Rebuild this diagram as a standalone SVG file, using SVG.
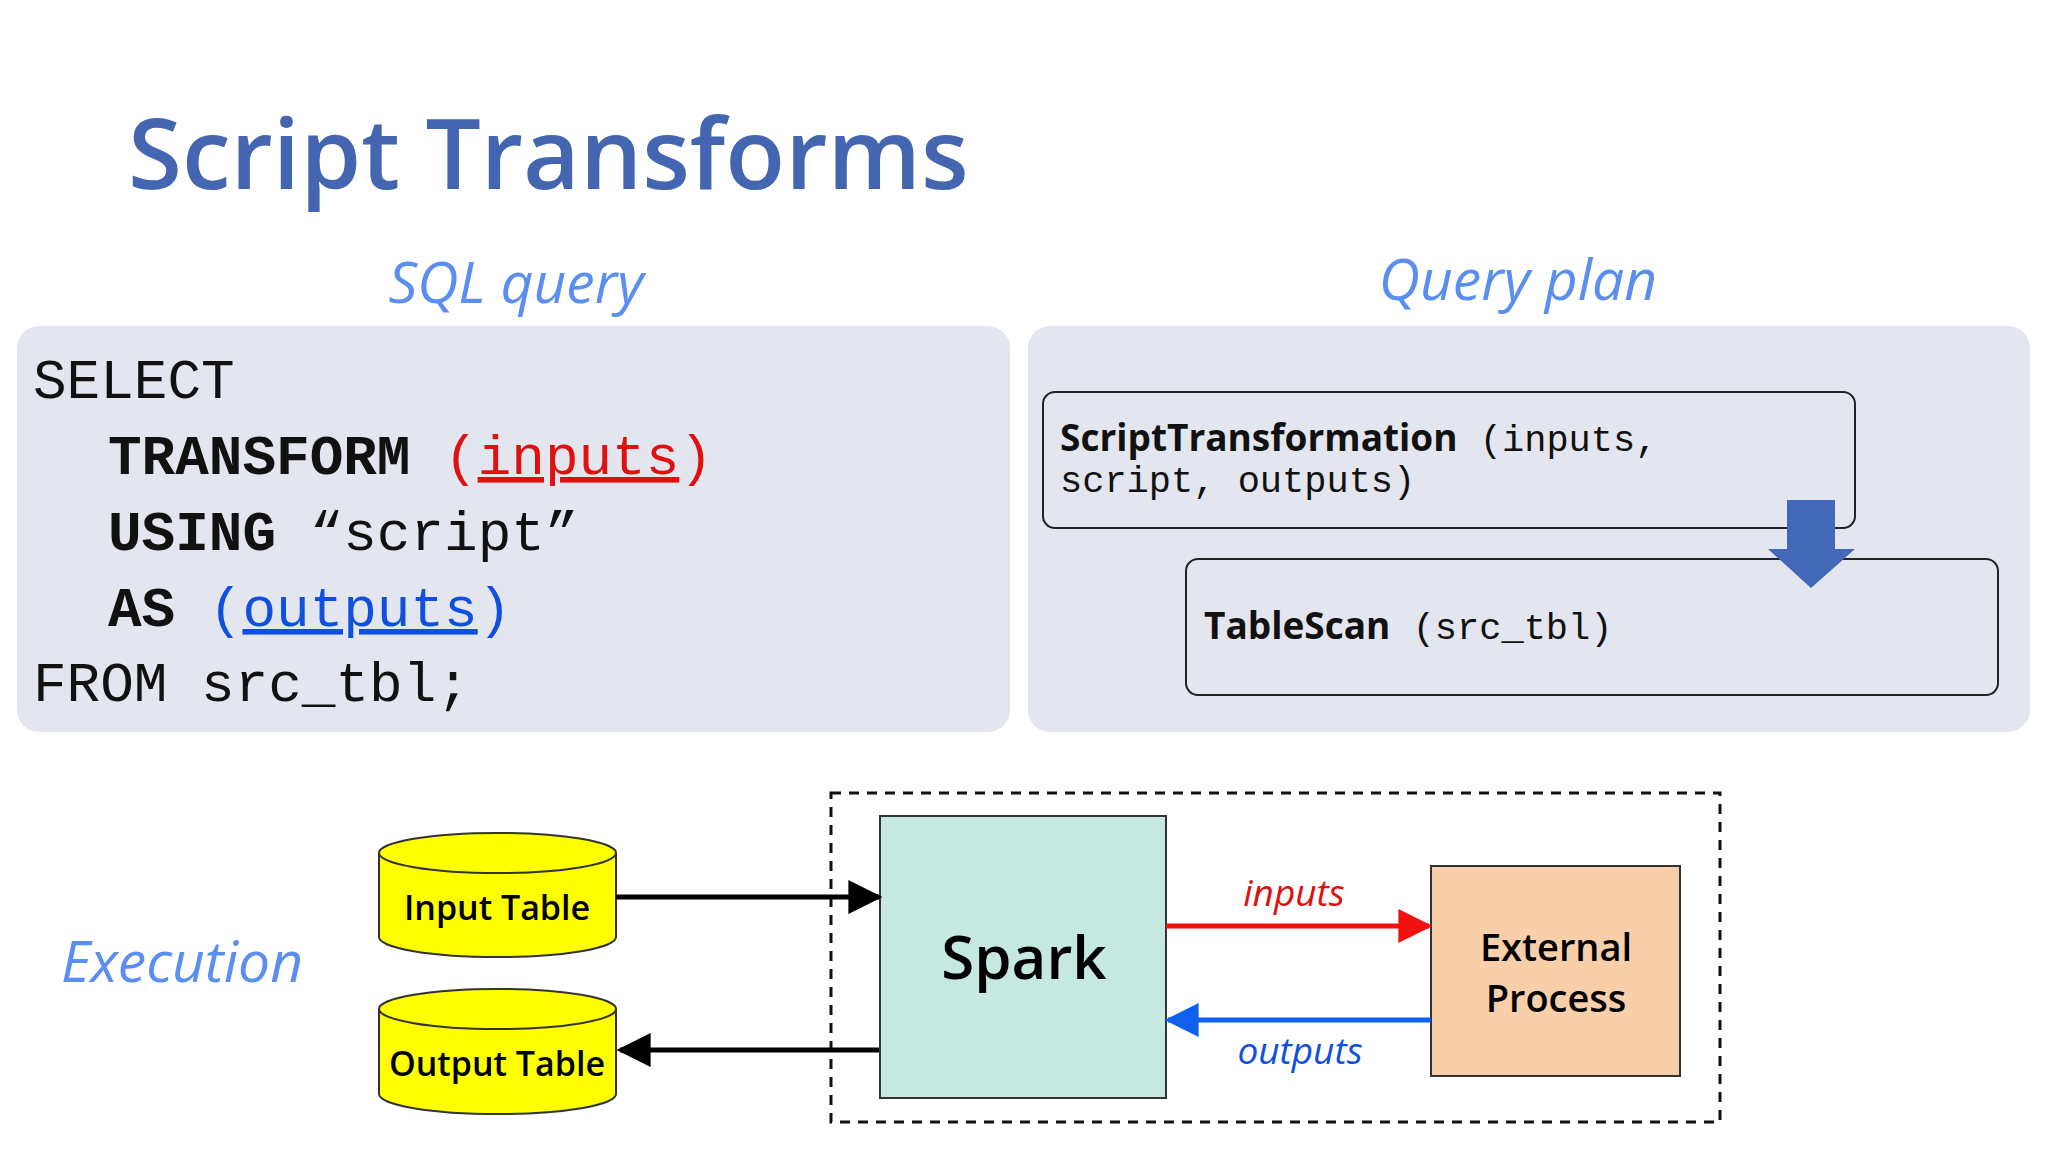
<svg xmlns="http://www.w3.org/2000/svg" width="2048" height="1152" viewBox="0 0 2048 1152">
<style>
.sans{font-family:"Open Sans","Noto Sans",sans-serif}
.mono{font-family:"Liberation Mono","DejaVu Sans Mono",monospace}
.sub{font-family:"Open Sans",sans-serif;font-style:italic;fill:#5a8ef0;font-size:57px}
.code{font-size:56px;fill:#111}
.pl{font-size:37px;fill:#111}
.cyl{fill:#ffff00;stroke:#333;stroke-width:2}
</style>
<defs>
<marker id="ak" markerWidth="10" markerHeight="10" refX="9" refY="5" orient="auto" markerUnits="userSpaceOnUse" viewBox="0 0 10 10"><path d="M0,0L10,5L0,10z" fill="#000"/></marker>
<marker id="ar" viewBox="0 0 10 10" refX="9" refY="5" markerWidth="34" markerHeight="34" orient="auto" markerUnits="userSpaceOnUse"><path d="M0,0L10,5L0,10z" fill="#f01010"/></marker>
<marker id="ab" viewBox="0 0 10 10" refX="9" refY="5" markerWidth="34" markerHeight="34" orient="auto" markerUnits="userSpaceOnUse"><path d="M0,0L10,5L0,10z" fill="#1060f0"/></marker>
<marker id="a2" viewBox="0 0 10 10" refX="9" refY="5" markerWidth="34" markerHeight="34" orient="auto" markerUnits="userSpaceOnUse"><path d="M0,0L10,5L0,10z" fill="#000"/></marker>
</defs>
<rect width="2048" height="1152" fill="#fff"/>
<text x="128" y="189" class="sans" font-size="98" font-weight="600" fill="#4466b0">Script Transforms</text>
<text x="516" y="303" text-anchor="middle" class="sub">SQL query</text>
<text x="1518" y="300" text-anchor="middle" class="sub">Query plan</text>
<g id="sql">
<rect x="17" y="326" width="993" height="406" rx="22" fill="#e4e6ef"/>
<text x="33" y="398" class="mono code">SELECT</text>
<text x="108" y="474" class="mono code"><tspan font-weight="bold">TRANSFORM</tspan> <tspan fill="#e01010">(<tspan text-decoration="underline">inputs</tspan>)</tspan></text>
<text x="108" y="550" class="mono code"><tspan font-weight="bold">USING</tspan> “script”</text>
<text x="108" y="626" class="mono code"><tspan font-weight="bold">AS</tspan> <tspan fill="#1050e0">(<tspan text-decoration="underline">outputs</tspan>)</tspan></text>
<text x="33" y="701" class="mono code">FROM src_tbl;</text>
</g>
<g id="plan">
<rect x="1028" y="326" width="1002" height="406" rx="22" fill="#e4e6ef"/>
<rect x="1043" y="392" width="812" height="136" rx="12" fill="none" stroke="#222" stroke-width="2"/>
<rect x="1186" y="559" width="812" height="136" rx="12" fill="none" stroke="#222" stroke-width="2"/>
<text x="1060" y="451" class="pl"><tspan class="sans" font-weight="bold">ScriptTransformation</tspan><tspan class="mono"> (inputs,</tspan></text>
<text x="1060" y="492" class="pl mono">script, outputs)</text>
<text x="1204" y="639" class="pl"><tspan class="sans" font-weight="bold">TableScan</tspan><tspan class="mono"> (src_tbl)</tspan></text>
<path d="M1787,500H1835V549H1855L1811,588L1768,549H1787Z" fill="#4468b8"/>
</g>
<text x="61" y="982" class="sub">Execution</text>
<rect x="831" y="793" width="889" height="329" fill="none" stroke="#111" stroke-width="3" stroke-dasharray="10,8"/>
<g id="input">
<path d="M379,853V937A118,20 0 0 0 616,937V853" class="cyl"/>
<ellipse cx="497.5" cy="853" rx="118.5" ry="20" class="cyl"/>
<text x="497" y="920" text-anchor="middle" class="sans" font-size="34" font-weight="600">Input Table</text>
</g>
<g id="output">
<path d="M379,1009V1094A118,20 0 0 0 616,1094V1009" class="cyl"/>
<ellipse cx="497.5" cy="1009" rx="118.5" ry="20" class="cyl"/>
<text x="497" y="1076" text-anchor="middle" class="sans" font-size="34" font-weight="600">Output Table</text>
</g>
<g id="spark">
<rect x="880" y="816" width="286" height="282" fill="#c5e8e0" stroke="#333" stroke-width="2"/>
<text x="1024" y="979" text-anchor="middle" class="sans" font-size="60" font-weight="600">Spark</text>
</g>
<g id="ext">
<rect x="1431" y="866" width="249" height="210" fill="#f8cfa8" stroke="#333" stroke-width="2"/>
<text x="1556" y="961" text-anchor="middle" class="sans" font-size="38" font-weight="600">External</text>
<text x="1556" y="1012" text-anchor="middle" class="sans" font-size="38" font-weight="600">Process</text>
</g>
<g id="connectors">
<line x1="616" y1="897" x2="879" y2="897" stroke="#000" stroke-width="5" marker-end="url(#a2)"/>
<line x1="879" y1="1050" x2="620" y2="1050" stroke="#000" stroke-width="5" marker-end="url(#a2)"/>
<line x1="1166" y1="926" x2="1429" y2="926" stroke="#f01010" stroke-width="5" marker-end="url(#ar)"/>
<line x1="1431" y1="1020" x2="1168" y2="1020" stroke="#1060f0" stroke-width="5" marker-end="url(#ab)"/>
<text x="1294" y="906" text-anchor="middle" class="sans" font-style="italic" font-size="37" fill="#e01010">inputs</text>
<text x="1300" y="1064" text-anchor="middle" class="sans" font-style="italic" font-size="37" fill="#1050e0">outputs</text>
</g>
</svg>
